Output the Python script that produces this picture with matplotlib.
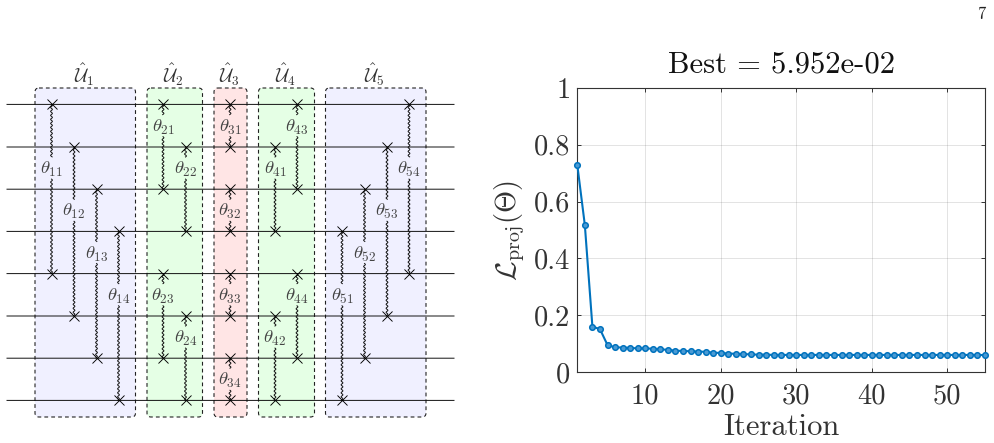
import numpy as np
import matplotlib
matplotlib.use("Agg")
import matplotlib.pyplot as plt
from matplotlib.patches import FancyBboxPatch

plt.rcParams["mathtext.fontset"] = "cm"
plt.rcParams["axes.unicode_minus"] = False

W, H = 995, 443

# ── Circuit layout ────────────────────────────────────────────────────────────

wire_y = [104.4, 147.0, 189.2, 231.4, 273.6, 316.0, 358.2, 400.4]

block_names = ["1", "2", "3", "4", "5"]
block_left = [35, 147, 214, 258.5, 325.5]
block_right = [135.5, 202.5, 247, 314.5, 426]
block_colors = ["#f0f0ff", "#e5ffe5", "#ffe5e5", "#e5ffe5", "#f0f0ff"]

# label, x, top wire, bottom wire, gap the label sits in
gates = [
    ("11", 51.5, 0, 4, 1), ("12", 74, 1, 5, 2), ("13", 96.5, 2, 6, 3), ("14", 118.5, 3, 7, 4),
    ("21", 163, 0, 2, 0), ("22", 185.5, 1, 3, 1), ("23", 163, 4, 6, 4), ("24", 185.5, 5, 7, 5),
    ("31", 230, 0, 1, 0), ("32", 230, 2, 3, 2), ("33", 230, 4, 5, 4), ("34", 230, 6, 7, 6),
    ("41", 275, 1, 3, 1), ("42", 275, 5, 7, 5), ("43", 297, 0, 2, 0), ("44", 297, 4, 6, 4),
    ("51", 342, 3, 7, 4), ("52", 364.5, 2, 6, 3), ("53", 387, 1, 5, 2), ("54", 409, 0, 4, 1),
]

# ── Loss curve ────────────────────────────────────────────────────────────────

iterations = list(range(1, 56))
loss = [
    0.729, 0.517, 0.160, 0.151, 0.095, 0.087, 0.086, 0.085, 0.083, 0.083,
    0.082, 0.080, 0.078, 0.075, 0.074, 0.073, 0.072, 0.071, 0.068, 0.067,
    0.065, 0.064, 0.063, 0.062, 0.061, 0.061, 0.060, 0.060, 0.060, 0.060,
    0.060, 0.060, 0.060, 0.060, 0.060, 0.060, 0.060, 0.060, 0.060, 0.060,
    0.060, 0.060, 0.060, 0.060, 0.060, 0.060, 0.060, 0.060, 0.060, 0.060,
    0.060, 0.060, 0.060, 0.060, 0.0595,
]
x_ticks = [10, 20, 30, 40, 50]
y_ticks = [0, 0.2, 0.4, 0.6, 0.8, 1]
y_tick_labels = ["0", "0.2", "0.4", "0.6", "0.8", "1"]

TEXT = "#333333"


def squiggle(ax, x, y0, y1):
    # vertical wavy line between two heights
    y = np.arange(y0, y1, 0.25)
    ax.plot(x + 0.9 * np.sin((y - y0) * 2 * np.pi / 4.0), y, color="#111111", lw=0.7, zorder=4)


def draw_circuit(ax):
    for name, left, right, color in zip(block_names, block_left, block_right, block_colors):
        ax.add_patch(FancyBboxPatch((left, 88), right - left, 329,
                                    boxstyle="round,pad=0,rounding_size=4",
                                    facecolor=color, edgecolor="#222222", lw=0.8,
                                    linestyle=(0, (3.4, 2.8)), zorder=1))
        ax.text((left + right) / 2 - 1.5, 74.5, r"$\hat{\mathcal{U}}_" + name + "$",
                fontsize=13.5, ha="center", va="center", color="#333333")

    for y in wire_y:
        line, = ax.plot([7, 454], [y, y], color="#111111", lw=0.7, zorder=3)
        line.set_snap(False)

    for label, x, top, bottom, gap in gates:
        mid = (wire_y[gap] + wire_y[gap + 1]) / 2
        squiggle(ax, x, wire_y[top], mid - 11)
        squiggle(ax, x, mid + 11, wire_y[bottom])
        ax.plot([x, x], [wire_y[top], wire_y[bottom]], ls="none", marker="x", ms=6.5,
                mew=0.65, color="black", zorder=5)
        ax.text(x, mid + 1.5, r"$\theta_{" + label + "}$", fontsize=13.5, ha="center",
                va="center", color="#444444", zorder=6)


def draw_loss(ax):
    ax.plot(iterations, loss, color="#0072BD", lw=1.5, marker="o", ms=4,
            mfc="#4a9ad4", mec="#0072BD", mew=1.1, clip_on=False, zorder=3)
    ax.set_xlim(1, 55)
    ax.set_ylim(0, 1)
    ax.set_xticks(x_ticks)
    ax.set_xticklabels([str(t) for t in x_ticks], family="cmr10", fontsize=20.5, color=TEXT)
    ax.set_yticks(y_ticks)
    ax.set_yticklabels(y_tick_labels, family="cmr10", fontsize=20.5, color=TEXT)
    ax.tick_params(axis="y", direction="in", length=3, width=0.7, left=True, right=True, color=TEXT, pad=5)
    ax.tick_params(axis="x", direction="in", length=3, width=0.7, top=True, bottom=True, color=TEXT, pad=8)
    ax.grid(True, color="#262626", alpha=0.13, lw=0.7)
    ax.set_axisbelow(True)
    for spine in ax.spines.values():
        spine.set_linewidth(0.8)
        spine.set_color(TEXT)
    ax.set_xlabel("Iteration", family="cmr10", fontsize=22, color=TEXT, labelpad=3)
    ax.set_ylabel(r"$\mathcal{L}_{\mathrm{proj}}(\Theta)$", fontsize=20.5, color=TEXT, labelpad=5)
    ax.set_title("Best = 5.952e-02", family="cmr10", fontsize=22, color="#111111", pad=11)


def main():
    fig = plt.figure(figsize=(W / 100, H / 100), dpi=100)

    circuit = fig.add_axes([0, 0, 1, 1])
    circuit.set_xlim(0, W)
    circuit.set_ylim(H, 0)
    circuit.axis("off")
    draw_circuit(circuit)
    circuit.text(981, 14, "7", family="cmr10", fontsize=12, ha="center", va="center", color="#222222")

    left, right, top, bottom = 577.3, 985, 88, 372
    loss_ax = fig.add_axes([left / W, 1 - bottom / H, (right - left) / W, (bottom - top) / H])
    draw_loss(loss_ax)

    fig.savefig("out.png", dpi=100)


if __name__ == "__main__":
    main()
